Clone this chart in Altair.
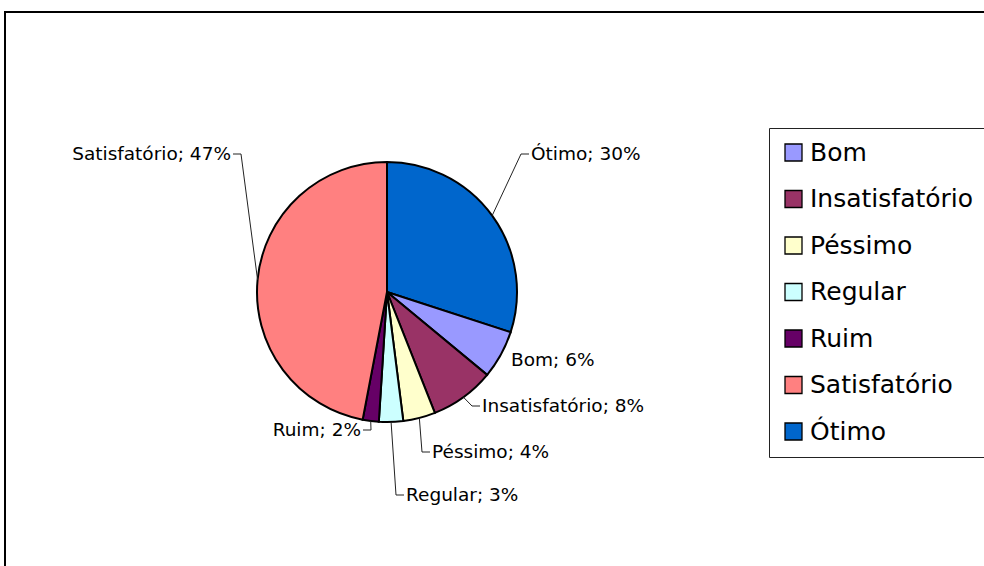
import math
import altair as alt
import pandas as pd

# ---- data ----
categories = ["Ótimo", "Bom", "Insatisfatório", "Péssimo", "Regular", "Ruim", "Satisfatório"]
percent = [30, 6, 8, 4, 3, 2, 47]
colors = ["#0066CC", "#9999FF", "#993366", "#FFFFCC", "#CCFFFF", "#660066", "#FF8080"]

# ---- layout ----
W, H = 984, 566
CX, CY, R = 387, 292, 130
# label anchor (leader elbow) offsets from the pie centre, in pixels
anchor_dx = [134, 122, 85, 35, 9, -16, -146]
anchor_dy = [-138, 68, 114, 160, 203, 138, -138]
label_dir = [1, 1, 1, 1, 1, -1, -1]
leader_len = [8, 0, 8, 8, 8, 8, 8]
FONT = "DejaVu Sans"

total = sum(percent)
rows, leaders, texts = [], [], []
cum = 0.0
for i, (c, p) in enumerate(zip(categories, percent)):
    start, end = cum, cum + p
    cum = end
    mid = (start + end) / 2 / total * 2 * math.pi
    rows.append({"cat": c, "start": start, "end": end})
    ex, ey = anchor_dx[i] / R, anchor_dy[i] / R
    d = label_dir[i]
    if leader_len[i] > 0:
        pts = [(math.sin(mid), -math.cos(mid)), (ex, ey), (ex + d * leader_len[i] / R, ey)]
        for k, (px, py) in enumerate(pts):
            leaders.append({"cat": c, "k": k, "x": px, "y": py})
    texts.append({
        "cat": c,
        "label": f"{c}; {p}%",
        "x": ex + d * (leader_len[i] + 2) / R,
        "y": ey,
        "dir": d,
    })

pie_df = pd.DataFrame(rows)
lead_df = pd.DataFrame(leaders)
text_df = pd.DataFrame(texts)

xs = alt.Scale(domain=[-CX / R, (W - CX) / R], range=[0, W], nice=False, zero=False)
ys = alt.Scale(domain=[-CY / R, (H - CY) / R], range=[0, H], nice=False, zero=False)

legend_order = sorted(categories)
color_scale = alt.Scale(domain=legend_order,
                        range=[colors[categories.index(c)] for c in legend_order])

border = alt.Chart(alt.Data(values=[{"a": 1}])).mark_rect(
    filled=False, stroke="black", strokeWidth=2
).encode(x=alt.value(5), y=alt.value(12), x2=alt.value(1100), y2=alt.value(800))

pie = alt.Chart(pie_df).mark_arc(radius=R, stroke="black", strokeWidth=2).encode(
    x=alt.datum(0, scale=xs, axis=None),
    y=alt.datum(0, scale=ys, axis=None),
    theta=alt.Theta("start:Q", scale=alt.Scale(domain=[0, total], range=[0, 2 * math.pi])),
    theta2="end:Q",
    color=alt.Color(
        "cat:N",
        scale=color_scale,
        legend=alt.Legend(
            orient="none", legendX=769, legendY=128, title=None,
            labelFont=FONT, labelFontSize=25, labelColor="black", labelLimit=400,
            labelOffset=4,
            symbolType="square", symbolSize=289, symbolStrokeColor="black",
            symbolStrokeWidth=1.3, strokeColor="#222222", fillColor="white",
            padding=12, rowPadding=20.5,
        ),
    ),
)

lines = alt.Chart(lead_df).mark_line(color="#222222", strokeWidth=1).encode(
    x=alt.X("x:Q", scale=xs, axis=None),
    y=alt.Y("y:Q", scale=ys, axis=None),
    detail="cat:N",
    order="k:Q",
)

text_right = alt.Chart(text_df).transform_filter("datum.dir > 0").mark_text(
    align="left", baseline="middle", font=FONT, fontSize=18.5, color="black"
).encode(x=alt.X("x:Q", scale=xs, axis=None), y=alt.Y("y:Q", scale=ys, axis=None), text="label:N")

text_left = alt.Chart(text_df).transform_filter("datum.dir < 0").mark_text(
    align="right", baseline="middle", font=FONT, fontSize=18.5, color="black"
).encode(x=alt.X("x:Q", scale=xs, axis=None), y=alt.Y("y:Q", scale=ys, axis=None), text="label:N")

chart = alt.layer(border, pie, lines, text_right, text_left).properties(
    width=W, height=H, autosize="none", padding=0, background="white"
).configure_view(strokeWidth=0)

chart.save("out.html", embed_options={"renderer": "svg", "actions": False})
